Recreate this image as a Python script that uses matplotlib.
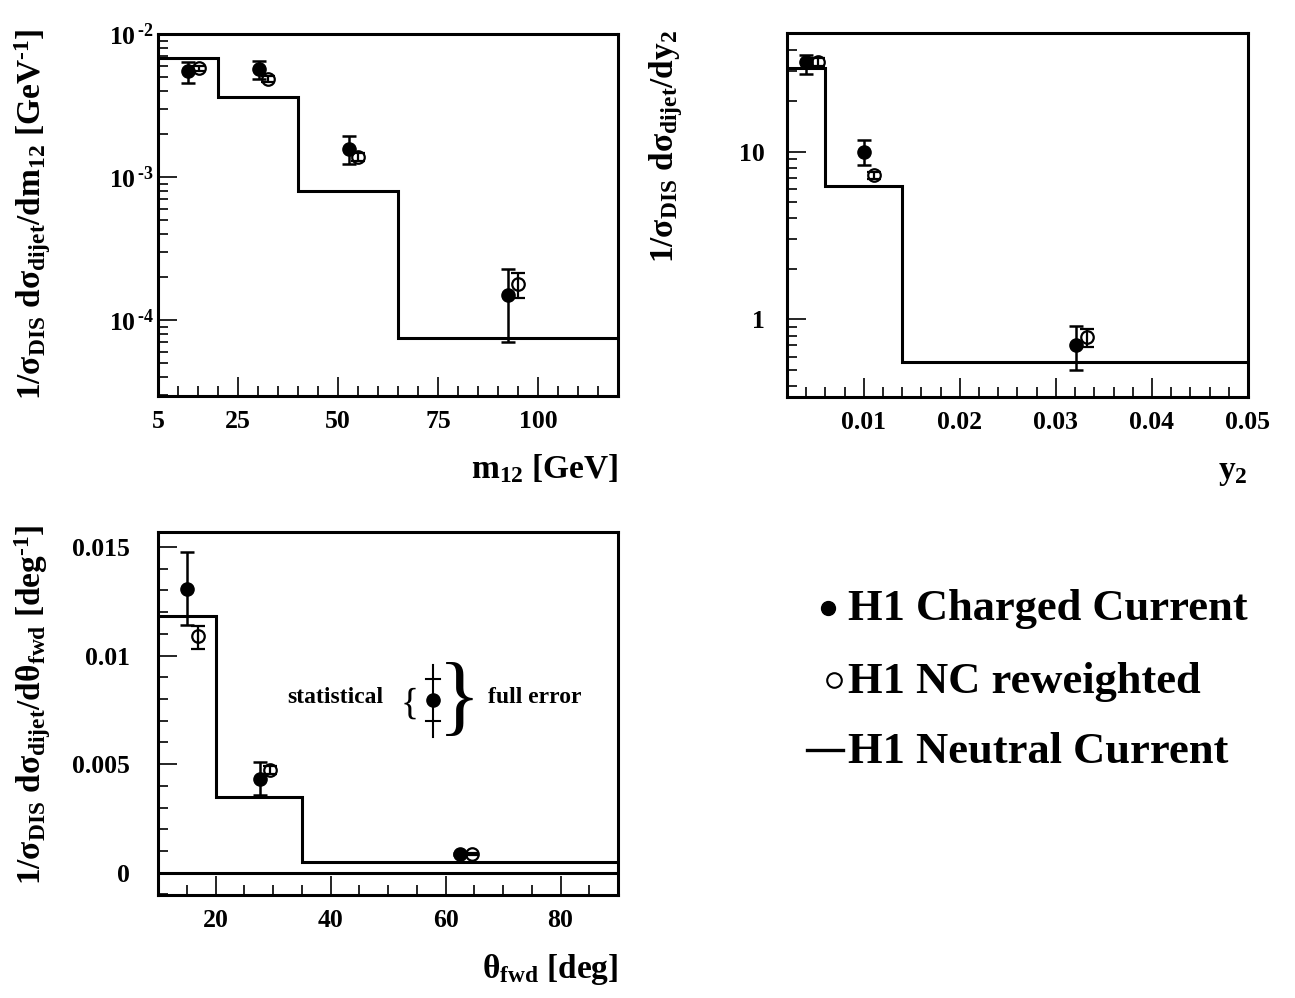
import matplotlib
matplotlib.use('Agg')
import matplotlib.pyplot as plt
import numpy as np
from matplotlib.ticker import FixedLocator, FuncFormatter, LogLocator, NullFormatter, MultipleLocator
from matplotlib.lines import Line2D

plt.rcParams['font.family'] = ['Liberation Serif', 'DejaVu Serif']
plt.rcParams['font.weight'] = 'bold'
plt.rcParams['mathtext.fontset'] = 'custom'
plt.rcParams['mathtext.rm'] = 'Liberation Serif'
plt.rcParams['mathtext.bf'] = 'Liberation Serif:bold'
plt.rcParams['mathtext.it'] = 'Liberation Serif:bold'
plt.rcParams['mathtext.default'] = 'bf'

# ---------------- data: m12 ----------------
m12_edges = [5, 20, 40, 65, 120]
m12_nc = [6.8e-3, 3.6e-3, 8.0e-4, 7.5e-5]
m12_cc_x = [12.6, 30.2, 52.7, 92.4]
m12_cc = [5.5e-3, 5.66e-3, 1.58e-3, 1.5e-4]
m12_cc_lo = [4.52e-3, 4.82e-3, 1.23e-3, 7.05e-5]
m12_cc_hi = [6.34e-3, 6.47e-3, 1.95e-3, 2.29e-4]
m12_ncr_x = [15.2, 32.6, 54.9, 94.9]
m12_ncr = [5.75e-3, 4.82e-3, 1.39e-3, 1.79e-4]
m12_ncr_lo = [5.5e-3, 4.6e-3, 1.30e-3, 1.42e-4]
m12_ncr_hi = [6.0e-3, 5.05e-3, 1.48e-3, 2.13e-4]

# ---------------- data: y2 ----------------
y2_edges = [0.002, 0.006, 0.014, 0.05]
y2_nc = [31.4, 6.27, 0.554]
y2_cc_x = [0.0040, 0.0100, 0.0321]
y2_cc = [33.9, 10.0, 0.703]
y2_cc_lo = [29.0, 8.36, 0.503]
y2_cc_hi = [37.7, 11.7, 0.908]
y2_ncr_x = [0.0052, 0.0111, 0.0332]
y2_ncr = [34.2, 7.26, 0.781]
y2_ncr_lo = [32.5, 6.9, 0.687]
y2_ncr_hi = [36.0, 7.6, 0.875]

# ---------------- data: theta_fwd ----------------
th_edges = [10, 20, 35, 90]
th_nc = [0.01184, 0.00347, 0.00051]
th_cc_x = [15.1, 27.7, 62.5]
th_cc = [0.01307, 0.0043, 0.00085]
th_cc_lo = [0.0114, 0.00357, 0.0008]
th_cc_hi = [0.01479, 0.00509, 0.0009]
th_ncr_x = [16.9, 29.5, 64.6]
th_ncr = [0.01088, 0.00473, 0.00085]
th_ncr_lo = [0.0103, 0.00455, 0.0008]
th_ncr_hi = [0.01137, 0.00491, 0.0009]

W, H = 1295, 998
fig = plt.figure(figsize=(W / 100, H / 100), dpi=100)

def box(l, t, r, b):
    return [l / W, 1 - b / H, (r - l) / W, (b - t) / H]

ax1 = fig.add_axes(box(158, 34, 618, 396))
ax2 = fig.add_axes(box(787, 33, 1248, 397))
ax3 = fig.add_axes(box(158, 532, 618, 895))

LW = 2.2
TICKFS = 18.5
LABFS = 24

def style(ax):
    for s in ax.spines.values():
        s.set_linewidth(LW)
    ax.tick_params(which='both', direction='in', top=False, right=False,
                   width=1.2, labelsize=TICKFS)
    ax.tick_params(which='major', length=14)
    ax.tick_params(which='minor', length=7)
    ax.tick_params(axis='x', which='both', pad=10)

def draw(ax, edges, nc, ccx, cc, cclo, cchi, nrx, nr, nrlo, nrhi):
    ax.stairs(nc, edges, baseline=None, color='k', lw=LW, zorder=3)
    cc = np.array(cc); nr = np.array(nr)
    ax.errorbar(ccx, cc, yerr=[cc - np.array(cclo), np.array(cchi) - cc], fmt='o',
                color='k', ms=9.5, capsize=5, capthick=1.8, elinewidth=1.8, zorder=4)
    ax.errorbar(nrx, nr, yerr=[nr - np.array(nrlo), np.array(nrhi) - nr], fmt='o',
                color='k', mfc='none', mew=1.6, ms=9, capsize=5, capthick=1.8,
                elinewidth=1.6, zorder=4)

# ---- panel 1 ----
draw(ax1, m12_edges, m12_nc, m12_cc_x, m12_cc, m12_cc_lo, m12_cc_hi,
     m12_ncr_x, m12_ncr, m12_ncr_lo, m12_ncr_hi)
ax1.set_yscale('log')
ax1.set_xlim(5, 120)
ax1.set_ylim(2.95e-5, 1e-2)
style(ax1)
ax1.xaxis.set_major_locator(FixedLocator([5, 25, 50, 75, 100]))
ax1.xaxis.set_minor_locator(MultipleLocator(5))
ax1.yaxis.set_major_locator(FixedLocator([1e-4, 1e-3, 1e-2]))
ax1.yaxis.set_minor_locator(LogLocator(base=10, subs=np.arange(2, 10)))
ax1.yaxis.set_minor_formatter(NullFormatter())
ax1.yaxis.set_major_formatter(FuncFormatter(
    lambda v, p: r'10$^{\,\text{-}%d}$' % abs(int(round(np.log10(v))))))
ax1.tick_params(axis='y', which='both', pad=3)
ax1.text(1.0, -82 / 362, r'm$_{12}$ [GeV]', transform=ax1.transAxes,
         ha='right', va='baseline', fontsize=LABFS)
ax1.text(-0.228, 1.015, r'1/$\sigma_{DIS}$ d$\sigma_{dijet}$/dm$_{12}$ [GeV$^{\text{-}1}$]',
         transform=ax1.transAxes, rotation=90, ha='right', va='top', fontsize=LABFS)

# ---- panel 2 ----
draw(ax2, y2_edges, y2_nc, y2_cc_x, y2_cc, y2_cc_lo, y2_cc_hi,
     y2_ncr_x, y2_ncr, y2_ncr_lo, y2_ncr_hi)
ax2.set_yscale('log')
ax2.set_xlim(0.002, 0.05)
ax2.set_ylim(0.345, 50.8)
style(ax2)
ax2.xaxis.set_major_locator(FixedLocator([0.01, 0.02, 0.03, 0.04, 0.05]))
ax2.xaxis.set_minor_locator(MultipleLocator(0.002))
ax2.xaxis.set_major_formatter(FuncFormatter(lambda v, p: '%.2f' % v))
ax2.yaxis.set_major_locator(FixedLocator([1, 10]))
ax2.yaxis.set_minor_locator(LogLocator(base=10, subs=np.arange(2, 10)))
ax2.yaxis.set_minor_formatter(NullFormatter())
ax2.yaxis.set_major_formatter(FuncFormatter(lambda v, p: '%d' % round(v)))
ax2.tick_params(axis='y', which='both', pad=16)
ax2.text(1.0, -82 / 364, r'y$_2$', transform=ax2.transAxes,
         ha='right', va='baseline', fontsize=LABFS)
ax2.text(-0.221, 1.01, r'1/$\sigma_{DIS}$ d$\sigma_{dijet}$/dy$_2$',
         transform=ax2.transAxes, rotation=90, ha='right', va='top', fontsize=LABFS)

# ---- panel 3 ----
ax3.axhline(0, color='k', lw=LW, zorder=2)
draw(ax3, th_edges, th_nc, th_cc_x, th_cc, th_cc_lo, th_cc_hi,
     th_ncr_x, th_ncr, th_ncr_lo, th_ncr_hi)
ax3.set_xlim(10, 90)
ax3.set_ylim(-0.00103, 0.01569)
style(ax3)
ax3.xaxis.set_major_locator(FixedLocator([20, 40, 60, 80]))
ax3.xaxis.set_minor_locator(MultipleLocator(5))
ax3.yaxis.set_major_locator(FixedLocator([0, 0.005, 0.01, 0.015]))
ax3.yaxis.set_minor_locator(MultipleLocator(0.001))
ax3.yaxis.set_major_formatter(FuncFormatter(
    lambda v, p: {0: '0', 1: '0.005', 2: '0.01', 3: '0.015'}[int(round(v / 0.005))]))
ax3.tick_params(axis='y', which='both', pad=20)
ax3.text(1.0, -83 / 363, r'$\mathrm{\theta}_{fwd}$ [deg]', transform=ax3.transAxes,
         ha='right', va='baseline', fontsize=LABFS)
ax3.text(-0.228, 1.02, r'1/$\sigma_{DIS}$ d$\sigma_{dijet}$/d$\theta_{fwd}$ [deg$^{\text{-}1}$]',
         transform=ax3.transAxes, rotation=90, ha='right', va='top', fontsize=LABFS)

# error key inside panel 3
kx, ky = 0.598, 0.537
ax3.plot([kx, kx], [0.435, 0.634], color='k', lw=1.5, transform=ax3.transAxes)
for yy in (0.479, 0.595):
    ax3.plot([kx - 0.016, kx + 0.016], [yy, yy], color='k', lw=1.5, transform=ax3.transAxes)
ax3.plot([kx], [ky], 'o', color='k', ms=9.5, transform=ax3.transAxes)
ax3.text(0.489, 0.543, 'statistical', transform=ax3.transAxes, ha='right',
         va='center', fontsize=17)
ax3.text(0.547, 0.526, '{', transform=ax3.transAxes, ha='center', va='center',
         fontsize=27, fontweight='normal')
ax3.text(0.654, 0.530, '}', transform=ax3.transAxes, ha='center', va='center',
         fontsize=64, fontweight='normal')
ax3.text(0.717, 0.543, 'full error', transform=ax3.transAxes, ha='left',
         va='center', fontsize=17)

# ---- legend on the right ----
legend_labels = ['H1 Charged Current', 'H1 NC reweighted', 'H1 Neutral Current']
for lab, base in zip(legend_labels, [620, 693, 763]):
    fig.text(848 / W, 1 - base / H, lab, ha='left', va='baseline', fontsize=32)
fig.add_artist(Line2D([828 / W], [1 - 608 / H], marker='o', ms=10, color='k',
                      transform=fig.transFigure))
fig.add_artist(Line2D([834 / W], [1 - 680 / H], marker='o', ms=10.5, mfc='none',
                      mew=1.5, color='k', transform=fig.transFigure))
fig.add_artist(Line2D([807 / W, 843 / W], [1 - 750 / H, 1 - 750 / H], lw=2.4,
                      color='k', transform=fig.transFigure))

fig.savefig('out.png', dpi=100)
